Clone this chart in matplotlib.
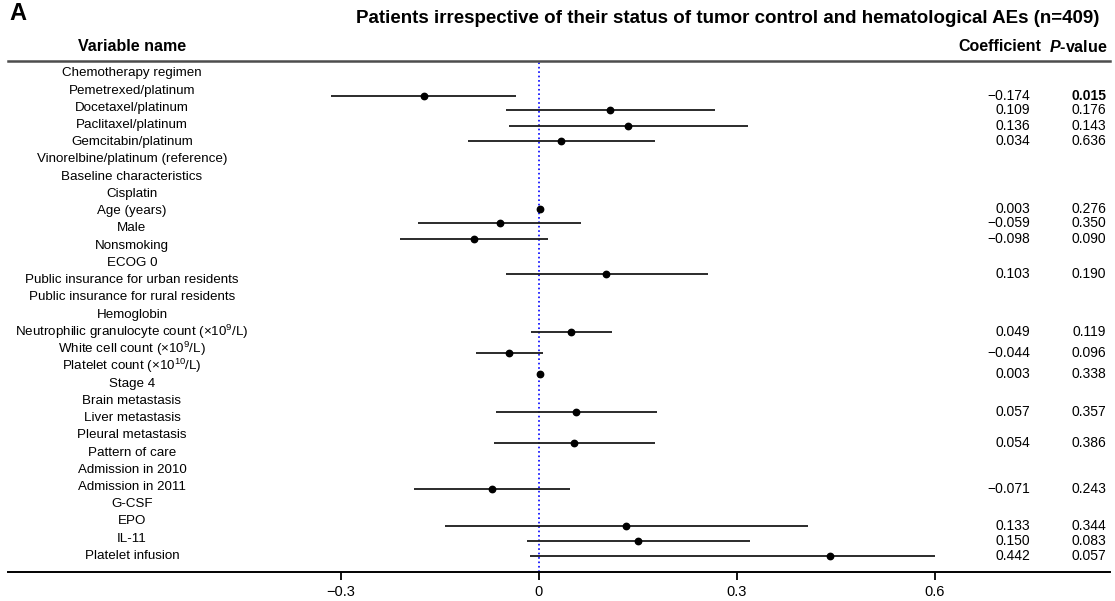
import matplotlib
matplotlib.use("Agg")
import matplotlib.pyplot as plt
from matplotlib.ticker import FuncFormatter

plt.rcParams.update({
    'font.family': ['Liberation Sans', 'DejaVu Sans'],
    'mathtext.fontset': 'custom',
    'mathtext.rm': 'Liberation Sans',
    'mathtext.it': 'Liberation Sans:italic:bold',
    'mathtext.bf': 'Liberation Sans:bold',
})

# variable names, one per row (rows 0..28 from the top)
var_labels = [
    "Chemotherapy regimen",
    "Pemetrexed/platinum",
    "Docetaxel/platinum",
    "Paclitaxel/platinum",
    "Gemcitabin/platinum",
    "Vinorelbine/platinum (reference)",
    "Baseline characteristics",
    "Cisplatin",
    "Age (years)",
    "Male",
    "Nonsmoking",
    "ECOG 0",
    "Public insurance for urban residents",
    "Public insurance for rural residents",
    "Hemoglobin",
    "Neutrophilic granulocyte count (\u00d710$^{9}$/L)",
    "White cell count (\u00d710$^{9}$/L)",
    "Platelet count (\u00d710$^{10}$/L)",
    "Stage 4",
    "Brain metastasis",
    "Liver metastasis",
    "Pleural metastasis",
    "Pattern of care",
    "Admission in 2010",
    "Admission in 2011",
    "G-CSF",
    "EPO",
    "IL-11",
    "Platelet infusion",
]

# estimates (coefficient, 95% CI, P-value)
coef = [-0.174, 0.109, 0.136, 0.034, 0.003, -0.059, -0.098, 0.103, 0.049,
        -0.044, 0.003, 0.057, 0.054, -0.071, 0.133, 0.150, 0.442]
ci_low = [-0.314, -0.049, -0.045, -0.107, 0.001, -0.183, -0.210, -0.050, -0.012,
          -0.095, -0.002, -0.064, -0.067, -0.189, -0.142, -0.018, -0.013]
ci_high = [-0.034, 0.267, 0.318, 0.177, 0.005, 0.065, 0.014, 0.257, 0.111,
           0.007, 0.008, 0.180, 0.177, 0.047, 0.409, 0.320, 0.600]
p_values = [0.015, 0.176, 0.143, 0.636, 0.276, 0.350, 0.090, 0.190, 0.119,
            0.096, 0.338, 0.357, 0.386, 0.243, 0.344, 0.083, 0.057]

# vertical placement of each estimate, in label-row units (as in the original)
est_rows = [1.31, 2.14, 3.03, 3.93, 7.88, 8.71, 9.62, 11.66, 14.99,
            16.22, 17.44, 19.65, 21.45, 24.12, 26.25, 27.11, 28.03]

x_ticks = [-0.3, 0, 0.3, 0.6]


def fmt(v):
    return f"{v:.3f}".replace('-', '\u2212')


fig = plt.figure(figsize=(11.15, 6.01), dpi=100)
ax = fig.add_axes([8 / 1115, 29 / 601, 1102 / 1115, 511 / 601])
ax.set_xlim(-0.8038, 0.8659)
ax.set_ylim(28.93, -0.713)

# reference line and estimates
ax.axvline(0, color='#0000ff', ls=':', lw=1.2, zorder=1)
ax.hlines(est_rows, ci_low, ci_high, color='#1a1a1a', lw=1.3, zorder=2)
ax.plot(coef, est_rows, 'o', ms=4.6, color='black', zorder=3)

# left column: variable names
for i, lab in enumerate(var_labels):
    ax.text(-0.616, i, lab, ha='center', va='center', fontsize=9.6)

# right columns: coefficient and P-value
for r, c, p in zip(est_rows, coef, p_values):
    ax.text(0.7447, r, fmt(c), ha='right', va='center', fontsize=10)
    ax.text(0.860, r, f"{p:.3f}", ha='right', va='center', fontsize=10,
            weight='bold' if p < 0.05 else 'normal')

# headers
ax.text(-0.616, -1.53, "Variable name", ha='center', va='center',
        fontsize=11.5, weight='bold')
ax.text(0.761, -1.53, "Coefficient", ha='right', va='center',
        fontsize=11.5, weight='bold')
ax.text(0.862, -1.53, r"$\mathit{P}$-value", ha='right', va='center',
        fontsize=11.5, weight='bold')
ax.text(0.287, -3.15,
        "Patients irrespective of their status of tumor control and hematological AEs (n=409)",
        ha='center', va='center', fontsize=13.5, weight='bold')
ax.text(-0.802, -3.45, "A", ha='left', va='center', fontsize=17, weight='bold')

# axes styling
for side in ('left', 'right'):
    ax.spines[side].set_visible(False)
ax.spines['top'].set_color('#4d4d4d')
ax.spines['top'].set_linewidth(1.8)
ax.spines['bottom'].set_color('black')
ax.spines['bottom'].set_linewidth(1.4)
ax.set_yticks([])
ax.set_xticks(x_ticks)
ax.xaxis.set_major_formatter(FuncFormatter(lambda v, _: f"{v:g}".replace('-', '\u2212')))
ax.tick_params(axis='x', length=6, width=1.3, labelsize=10.5, pad=3)

fig.savefig("out.png", dpi=100)
